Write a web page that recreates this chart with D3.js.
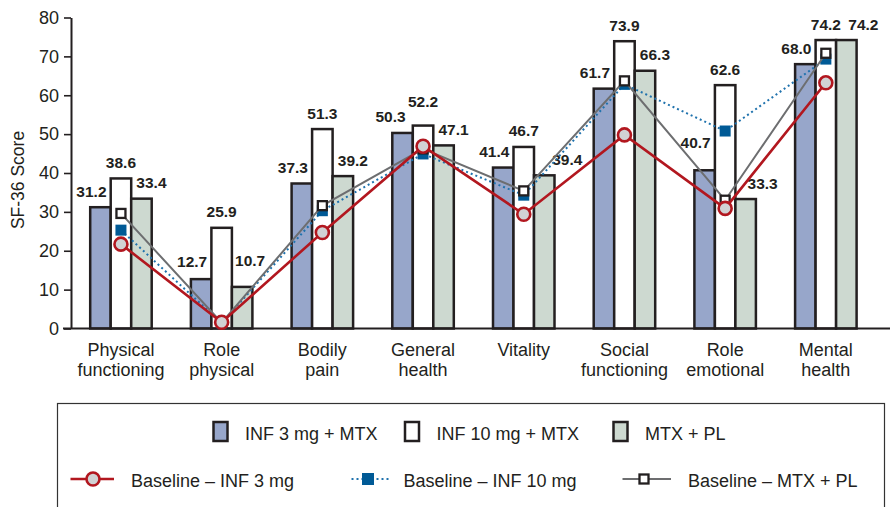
<!DOCTYPE html>
<html>
<head>
<meta charset="utf-8">
<script src="https://cdn.jsdelivr.net/npm/d3@7"></script>
<style>
  body { margin: 0; background: #fff; }
  svg { display: block; font-family: Arial, "Liberation Sans", Helvetica, sans-serif; }
</style>
</head>
<body>
<div id="chart"></div>
<script>
// SF-36 scores by domain
const categories = [
    ["Physical", "functioning"], ["Role", "physical"], ["Bodily", "pain"], ["General", "health"],
    ["Vitality"], ["Social", "functioning"], ["Role", "emotional"], ["Mental", "health"]
];
const barSeries = ["INF 3 mg + MTX", "INF 10 mg + MTX", "MTX + PL"];
const inf3 = [31.2, 12.7, 37.3, 50.3, 41.4, 61.7, 40.7, 68.0];
const inf10 = [38.6, 25.9, 51.3, 52.2, 46.7, 73.9, 62.6, 74.2];
const mtxPl = [33.4, 10.7, 39.2, 47.1, 39.4, 66.3, 33.3, 74.2];

const lineSeries = ["Baseline – INF 3 mg", "Baseline – INF 10 mg", "Baseline – MTX + PL"];
const baseInf3 = [21.7, 1.6, 24.7, 46.9, 29.4, 49.8, 30.9, 63.2];
const baseInf10 = [25.3, 1.4, 30.3, 44.9, 34.3, 62.8, 50.8, 69.3];
const baseMtxPl = [29.6, 1.5, 31.6, 46.2, 35.4, 63.7, 33.0, 70.8];

const yTicks = [0, 10, 20, 30, 40, 50, 60, 70, 80];

// --- layout ---
const width = 893, height = 507;
const ink = "#231f20";
const barFills = ["#97a6ca", "#ffffff", "#cdd9d0"];

const svg = d3.select("#chart").append("svg")
    .attr("width", width)
    .attr("height", height);

const catKeys = categories.map(c => c.join(" "));

const x = d3.scaleBand()
    .domain(catKeys)
    .range([70.6, 876.2])
    .padding(0);

const xSub = d3.scaleBand()
    .domain(barSeries)
    .range([-30.75, 30.75])
    .padding(0);

const y = d3.scaleLinear()
    .domain([0, 80])
    .range([328.5, 17.5]);

const cx = k => x(k) + x.bandwidth() / 2;

// y axis
const yAxis = svg.append("g")
    .attr("transform", "translate(71,0)")
    .call(d3.axisLeft(y).tickValues(yTicks).tickSize(7).tickSizeOuter(0).tickPadding(5));
yAxis.select(".domain").attr("stroke", ink).attr("stroke-width", 2);
yAxis.selectAll(".tick line").attr("stroke", ink).attr("stroke-width", 1.6);
yAxis.selectAll(".tick text")
    .attr("fill", ink)
    .style("font-size", "18px")
    .style("font-family", "Arial, 'Liberation Sans', sans-serif");

svg.append("text")
    .attr("transform", "translate(24,180) rotate(-90)")
    .attr("text-anchor", "middle")
    .attr("fill", ink)
    .style("font-size", "17.5px")
    .text("SF-36 Score");

// bars
const barTable = catKeys.map((k, i) => ({
    key: k,
    values: [inf3[i], inf10[i], mtxPl[i]]
}));

const groups = svg.append("g")
    .selectAll("g")
    .data(barTable)
    .join("g")
    .attr("transform", d => `translate(${cx(d.key)},0)`);

groups.selectAll("rect")
    .data(d => d.values.map((v, j) => ({ series: barSeries[j], j, v, key: d.key })))
    .join("rect")
    .attr("x", d => xSub(d.series))
    .attr("y", d => y(d.v))
    .attr("width", xSub.bandwidth())
    .attr("height", d => y(0) - y(d.v))
    .attr("fill", d => barFills[d.j])
    .attr("stroke", ink)
    .attr("stroke-width", 2.5);

// value labels (default offsets per series, plus a few hand nudges)
const labelDx = [-9, 0, 10];
const labelNudge = {
    "0|General health": { dx: -3, dy: 0 },
    "1|General health": { dx: 0, dy: -8 },
    "0|Role emotional": { dx: 0, dy: -12 },
    "2|Role physical": { dx: -2, dy: -10 },
    "0|Role physical": { dx: 0, dy: -2 },
    "2|Vitality": { dx: 13, dy: 0 },
    "2|Role emotional": { dx: 7, dy: 0 },
    "2|Mental health": { dx: 7, dy: 0 }
};

groups.selectAll("text.val")
    .data(d => d.values.map((v, j) => ({ series: barSeries[j], j, v, key: d.key })))
    .join("text")
    .attr("class", "val")
    .attr("x", d => xSub(d.series) + xSub.bandwidth() / 2 + labelDx[d.j] + ((labelNudge[d.j + "|" + d.key] || {}).dx || 0))
    .attr("y", d => y(d.v) - 10.5 + ((labelNudge[d.j + "|" + d.key] || {}).dy || 0))
    .attr("text-anchor", "middle")
    .attr("fill", ink)
    .style("font-size", "15.5px")
    .style("font-weight", "bold")
    .text(d => d.v.toFixed(1));

// x axis baseline
svg.append("line")
    .attr("x1", 63).attr("x2", 890)
    .attr("y1", y(0)).attr("y2", y(0))
    .attr("stroke", ink)
    .attr("stroke-width", 2);

// category labels
const catLabels = svg.append("g")
    .selectAll("text")
    .data(categories)
    .join("text")
    .attr("x", d => cx(d.join(" ")))
    .attr("y", 356)
    .attr("text-anchor", "middle")
    .attr("fill", ink)
    .style("font-size", "18px");
catLabels.selectAll("tspan")
    .data(d => d)
    .join("tspan")
    .attr("x", function () { return d3.select(this.parentNode).attr("x"); })
    .attr("dy", (d, i) => i === 0 ? 0 : 19.5)
    .text(d => d);

// baseline lines
const line = d3.line()
    .x(d => cx(d.key))
    .y(d => y(d.v));

const toPts = arr => catKeys.map((k, i) => ({ key: k, v: arr[i] }));

// INF 10 mg: blue dotted, filled squares
const blue = "#005a96";
svg.append("path")
    .datum(toPts(baseInf10))
    .attr("d", line)
    .attr("fill", "none")
    .attr("stroke", "#1f72ad")
    .attr("stroke-width", 2)
    .attr("stroke-dasharray", "2,3");
svg.append("g").selectAll("rect")
    .data(toPts(baseInf10))
    .join("rect")
    .attr("x", d => cx(d.key) - 5.5)
    .attr("y", d => y(d.v) - 5.5)
    .attr("width", 11).attr("height", 11)
    .attr("fill", blue);

// MTX + PL: gray line, open squares
svg.append("path")
    .datum(toPts(baseMtxPl))
    .attr("d", line)
    .attr("fill", "none")
    .attr("stroke", "#6d6e70")
    .attr("stroke-width", 2);
svg.append("g").selectAll("rect")
    .data(toPts(baseMtxPl))
    .join("rect")
    .attr("x", d => cx(d.key) - 4.5)
    .attr("y", d => y(d.v) - 4.5)
    .attr("width", 9).attr("height", 9)
    .attr("fill", "#fff")
    .attr("stroke", ink)
    .attr("stroke-width", 2.3);

// INF 3 mg: red line, grey circles
const red = "#b2171f";
svg.append("path")
    .datum(toPts(baseInf3))
    .attr("d", line)
    .attr("fill", "none")
    .attr("stroke", red)
    .attr("stroke-width", 2.6);
svg.append("g").selectAll("circle")
    .data(toPts(baseInf3))
    .join("circle")
    .attr("cx", d => cx(d.key))
    .attr("cy", d => y(d.v))
    .attr("r", 6.5)
    .attr("fill", "#d1d2d4")
    .attr("stroke", red)
    .attr("stroke-width", 2.6);

// legend
const legend = svg.append("g");
legend.append("rect")
    .attr("x", 57.5).attr("y", 403.5)
    .attr("width", 827).attr("height", 106)
    .attr("fill", "#fff")
    .attr("stroke", "#333")
    .attr("stroke-width", 1.2);

const swatchX = [213.5, 405, 613.5];
barSeries.forEach((s, j) => {
    legend.append("rect")
        .attr("x", swatchX[j]).attr("y", 422)
        .attr("width", 14).attr("height", 19)
        .attr("fill", barFills[j])
        .attr("stroke", ink)
        .attr("stroke-width", 2.5);
    legend.append("text")
        .attr("x", swatchX[j] + 31.5).attr("y", 440)
        .attr("fill", ink)
        .style("font-size", "18px")
        .text(s);
});

const row2 = 479;
// red
legend.append("line").attr("x1", 70.5).attr("x2", 114).attr("y1", row2).attr("y2", row2)
    .attr("stroke", red).attr("stroke-width", 2.6);
legend.append("circle").attr("cx", 93).attr("cy", row2).attr("r", 6.5)
    .attr("fill", "#d1d2d4").attr("stroke", red).attr("stroke-width", 2.6);
legend.append("text").attr("x", 131).attr("y", row2 + 7.5)
    .attr("fill", ink).style("font-size", "18px").text(lineSeries[0]);
// blue
legend.append("line").attr("x1", 351.5).attr("x2", 390).attr("y1", row2).attr("y2", row2)
    .attr("stroke", "#1f72ad").attr("stroke-width", 2).attr("stroke-dasharray", "2,3");
legend.append("rect").attr("x", 362).attr("y", row2 - 6).attr("width", 12).attr("height", 12)
    .attr("fill", blue);
legend.append("text").attr("x", 403.5).attr("y", row2 + 7.5)
    .attr("fill", ink).style("font-size", "18px").text(lineSeries[1]);
// gray
legend.append("line").attr("x1", 622.5).attr("x2", 671).attr("y1", row2).attr("y2", row2)
    .attr("stroke", "#6d6e70").attr("stroke-width", 2);
legend.append("rect").attr("x", 639.5).attr("y", row2 - 4.5).attr("width", 9).attr("height", 9)
    .attr("fill", "#fff").attr("stroke", ink).attr("stroke-width", 2.3);
legend.append("text").attr("x", 688).attr("y", row2 + 7.5)
    .attr("fill", ink).style("font-size", "18px").text(lineSeries[2]);
</script>
</body>
</html>
